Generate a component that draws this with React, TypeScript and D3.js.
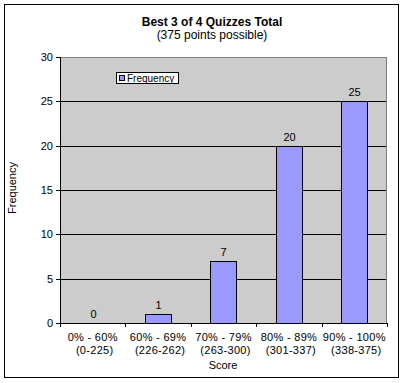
import React from "react";
import * as d3 from "d3";

const categories = ["0% - 60%|(0-225)", "60% - 69%|(226-262)", "70% - 79%|(263-300)", "80% - 89%|(301-337)", "90% - 100%|(338-375)"];
const frequency = [0, 1, 7, 20, 25];
const yTicks = [0, 5, 10, 15, 20, 25, 30];
const title = "Best 3 of 4 Quizzes Total";
const subtitle = "(375 points possible)";
const seriesName = "Frequency";

export default function App() {
  const W = 405, H = 383;
  const left = 60, right = 387, top = 57, bottom = 323;
  const x = d3.scaleBand<string>().domain(categories).range([left, right]).paddingInner(0.6).paddingOuter(0.3);
  const xb = d3.scaleBand<string>().domain(categories).range([left, right]);
  const y = d3.scaleLinear().domain([0, 30]).range([bottom, top]);
  const font = "Liberation Sans, Arial, sans-serif";
  return (
    <svg width={W} height={H} style={{ position: "absolute", left: 0, top: 0 }} fontFamily={font}>
      <rect x={0} y={0} width={W} height={H} fill="#fff" />
      <rect x={4.5} y={4.5} width={394} height={373} fill="#fff" stroke="#000" />
      <text x={212} y={26} textAnchor="middle" fontSize={12} fontWeight="bold">{title}</text>
      <text x={212} y={39} textAnchor="middle" fontSize={12}>{subtitle}</text>
      <rect x={left} y={top} width={right - left} height={bottom - top} fill="#cccccc" />
      {yTicks.filter(t => t > 0 && t < 30).map(t => (
        <line key={t} x1={left} x2={right} y1={Math.round(y(t)) + 0.5} y2={Math.round(y(t)) + 0.5} stroke="#000" />
      ))}
      <line x1={left} x2={right} y1={top + 0.5} y2={top + 0.5} stroke="#808080" />
      <line x1={right - 0.5} x2={right - 0.5} y1={top} y2={bottom} stroke="#808080" />
      {frequency.map((v, i) => {
        const c = categories[i];
        const bx = Math.round(x(c)!);
        const bw = Math.round(x.bandwidth());
        const by = Math.round(y(v));
        return (
          <g key={c}>
            {v > 0 && <rect x={bx + 0.5} y={by + 0.5} width={bw} height={bottom - by} fill="#9999ff" stroke="#000" />}
            <text x={bx + bw / 2 + 0.5} y={by - 5} textAnchor="middle" fontSize={11}>{v}</text>
          </g>
        );
      })}
      <line x1={left + 0.5} x2={left + 0.5} y1={top} y2={bottom + 4} stroke="#000" />
      <line x1={left} x2={right} y1={bottom + 0.5} y2={bottom + 0.5} stroke="#000" />
      {yTicks.map(t => (
        <g key={t}>
          <line x1={left - 4} x2={left} y1={Math.round(y(t)) + 0.5} y2={Math.round(y(t)) + 0.5} stroke="#000" />
          <text x={left - 7} y={y(t) + 4} textAnchor="end" fontSize={11}>{t}</text>
        </g>
      ))}
      {categories.map((c, i) => {
        const bx = xb(c)!;
        const [l1, l2] = c.split("|");
        const cx = bx + xb.bandwidth() / 2;
        return (
          <g key={c}>
            <line x1={Math.round(bx + xb.bandwidth()) + 0.5} x2={Math.round(bx + xb.bandwidth()) + 0.5} y1={bottom} y2={bottom + 4} stroke="#000" />
            <text x={cx} y={341} textAnchor="middle" fontSize={11} letterSpacing={0.3}>{l1}</text>
            <text x={cx + 2} y={354} textAnchor="middle" fontSize={11} letterSpacing={0.3}>{l2}</text>
          </g>
        );
      })}
      <text x={223} y={369} textAnchor="middle" fontSize={11}>Score</text>
      <text transform={`translate(16,188) rotate(-90)`} textAnchor="middle" fontSize={11}>Frequency</text>
      <rect x={116.5} y={72.5} width={62} height={11} fill="#fff" stroke="#000" />
      <rect x={119.5} y={75.5} width={5} height={5} fill="#9999ff" stroke="#000" />
      <text x={127} y={82} fontSize={10}>{seriesName}</text>
    </svg>
  );
}
